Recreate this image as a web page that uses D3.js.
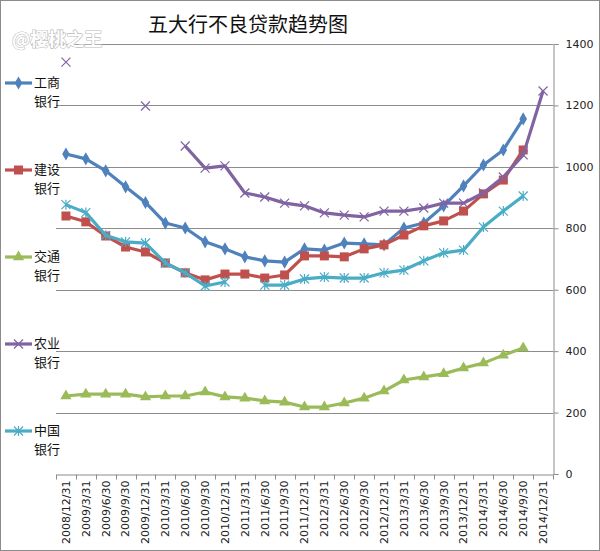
<!DOCTYPE html>
<html>
<head>
<meta charset="utf-8">
<script src="https://cdn.jsdelivr.net/npm/d3@7/dist/d3.min.js"></script>
<style>
  body { margin: 0; background: #fff; }
  svg { display: block; font-family: "Noto Sans CJK SC", "DejaVu Sans", sans-serif; }
</style>
</head>
<body>
<div id="chart"></div>
<script>
// quarterly NPL, 亿元
const quarters = ['2008/12/31', '2009/3/31', '2009/6/30', '2009/9/30', '2009/12/31',
  '2010/3/31', '2010/6/30', '2010/9/30', '2010/12/31', '2011/3/31', '2011/6/30',
  '2011/9/30', '2011/12/31', '2012/3/31', '2012/6/30', '2012/9/30', '2012/12/31',
  '2013/3/31', '2013/6/30', '2013/9/30', '2013/12/31', '2014/3/31', '2014/6/30',
  '2014/9/30', '2014/12/31'];

const icbc = [1042, 1026, 987, 935, 884, 817, 801, 756, 733, 707, 694, 690, 733, 729,
  752, 749, 746, 801, 817, 873, 938, 1006, 1055, 1156, null];
const ccb = [840, 821, 775, 739, 723, 687, 655, 632, 651, 651, 638, 648, 710, 710,
  707, 733, 746, 778, 808, 824, 856, 912, 957, 1055, null];
const bocom = [254, 260, 260, 260, 251, 254, 254, 267, 251, 247, 238, 234, 218, 218,
  231, 247, 270, 306, 316, 326, 345, 361, 387, 410, null];
const abc = [1341, null, null, null, 1198, null, 1068, 996, 1003, 915, 902, 882, 873,
  850, 843, 837, 856, 856, 866, 882, 882, 915, 967, 1039, 1247];
const boc = [877, 851, 777, 756, 752, 687, 655, 612, 625, null, 615, 615, 635, 641,
  638, 638, 655, 664, 694, 720, 729, 804, 856, 905, null];

const yTicks = [0, 200, 400, 600, 800, 1000, 1200, 1400];

const series = [
  { name: ['工商', '银行'], values: icbc, color: '#4F81BD', marker: 'diamond', ly: 83 },
  { name: ['建设', '银行'], values: ccb, color: '#C0504D', marker: 'square', ly: 170 },
  { name: ['交通', '银行'], values: bocom, color: '#9BBB59', marker: 'triangle', ly: 257 },
  { name: ['农业', '银行'], values: abc, color: '#8064A2', marker: 'cross', ly: 344 },
  { name: ['中国', '银行'], values: boc, color: '#4BACC6', marker: 'star', ly: 431 }
];

const W = 600, H = 551;
const svg = d3.select('#chart').append('svg').attr('width', W).attr('height', H);

svg.append('rect').attr('x', 0.5).attr('y', 0.5).attr('width', W - 1).attr('height', H - 1)
  .attr('fill', '#fff').attr('stroke', '#8c8c8c');

const x = d3.scaleBand().domain(quarters).range([56, 553]);
const y = d3.scaleLinear().domain([0, 1400]).range([474, 44]);

// gridlines
svg.append('g').selectAll('line').data(yTicks.filter(d => d > 0)).join('line')
  .attr('x1', 56).attr('x2', 553)
  .attr('y1', d => Math.round(y(d)) + 0.5).attr('y2', d => Math.round(y(d)) + 0.5)
  .attr('stroke', '#8c8c8c').attr('stroke-width', 1);

// right value axis
const yAxis = svg.append('g').attr('transform', 'translate(553.5,0)')
  .call(d3.axisRight(y).tickValues(yTicks).tickFormat(d3.format('d')).tickSize(5).tickPadding(7));
yAxis.select('.domain').attr('stroke', '#8c8c8c');
yAxis.selectAll('.tick line').attr('stroke', '#8c8c8c');
yAxis.selectAll('text').attr('font-size', 11).attr('fill', '#222')
  .attr('font-family', '"DejaVu Sans", sans-serif');

// category axis
const xAxis = svg.append('g').attr('transform', `translate(0,${Math.round(y(0)) + 0.5})`)
  .call(d3.axisBottom(x).tickSize(0));
xAxis.select('.domain').attr('stroke', '#8c8c8c');
xAxis.selectAll('text')
  .attr('font-size', 11).attr('fill', '#222')
  .attr('font-family', '"DejaVu Sans", sans-serif')
  .attr('text-anchor', 'end')
  .attr('dy', '0.35em')
  .attr('transform', 'translate(0,6) rotate(-90)')
  .attr('x', 0).attr('y', 0);
// tick marks between categories
xAxis.append('g').selectAll('line').data(quarters.concat(['end'])).join('line')
  .attr('x1', (d, i) => Math.round(56 + i * x.step()) + 0.5)
  .attr('x2', (d, i) => Math.round(56 + i * x.step()) + 0.5)
  .attr('y1', 0).attr('y2', 5).attr('stroke', '#8c8c8c');

const cx = i => x(quarters[i]) + x.bandwidth() / 2;

function drawMarker(g, type, color, px, py) {
  if (type === 'diamond') {
    g.append('path').attr('d', d3.symbol(d3.symbolDiamond, 50)())
      .attr('transform', `translate(${px},${py})`).attr('fill', color);
  } else if (type === 'square') {
    g.append('rect').attr('x', px - 4.5).attr('y', py - 4.5).attr('width', 9).attr('height', 9)
      .attr('fill', color);
  } else if (type === 'triangle') {
    g.append('path').attr('d', d3.symbol(d3.symbolTriangle, 55)())
      .attr('transform', `translate(${px},${py})`).attr('fill', color);
  } else if (type === 'cross') {
    g.append('path').attr('d', `M${px - 4.5},${py - 4.5}L${px + 4.5},${py + 4.5}M${px - 4.5},${py + 4.5}L${px + 4.5},${py - 4.5}`)
      .attr('stroke', color).attr('stroke-width', 1.2).attr('fill', 'none');
  } else if (type === 'star') {
    g.append('path').attr('d', `M${px - 4.5},${py - 4.5}L${px + 4.5},${py + 4.5}M${px - 4.5},${py + 4.5}L${px + 4.5},${py - 4.5}M${px},${py - 5}L${px},${py + 5}`)
      .attr('stroke', color).attr('stroke-width', 1.2).attr('fill', 'none');
  }
}

const line = d3.line()
  .defined(d => d != null)
  .x((d, i) => cx(i))
  .y(d => y(d));

series.forEach(s => {
  const g = svg.append('g');
  g.append('path').datum(s.values).attr('d', line)
    .attr('fill', 'none').attr('stroke', s.color).attr('stroke-width', 3.2)
    .attr('stroke-linejoin', 'round');
  s.values.forEach((v, i) => {
    if (v != null) drawMarker(g, s.marker, s.color, cx(i), y(v));
  });

  // legend entry, label wrapped over two lines
  const lg = svg.append('g');
  lg.append('line').attr('x1', 5).attr('x2', 32).attr('y1', s.ly).attr('y2', s.ly)
    .attr('stroke', s.color).attr('stroke-width', 3.2);
  drawMarker(lg, s.marker, s.color, 18.5, s.ly);
  const t = lg.append('text').attr('x', 34).attr('y', s.ly + 4)
    .attr('font-size', 13).attr('fill', '#111');
  t.append('tspan').attr('x', 34).text(s.name[0]);
  t.append('tspan').attr('x', 34).attr('dy', 19).text(s.name[1]);
});

// title
svg.append('text').attr('x', 248).attr('y', 32).attr('text-anchor', 'middle')
  .attr('font-size', 20).attr('fill', '#111').text('五大行不良贷款趋势图');

// watermark
svg.append('text').attr('x', 12).attr('y', 46).attr('font-size', 18).attr('font-weight', 'bold')
  .attr('fill', '#fff').attr('stroke', '#bbb').attr('stroke-width', 1.2)
  .attr('paint-order', 'stroke').text('@樱桃之王');
</script>
</body>
</html>
